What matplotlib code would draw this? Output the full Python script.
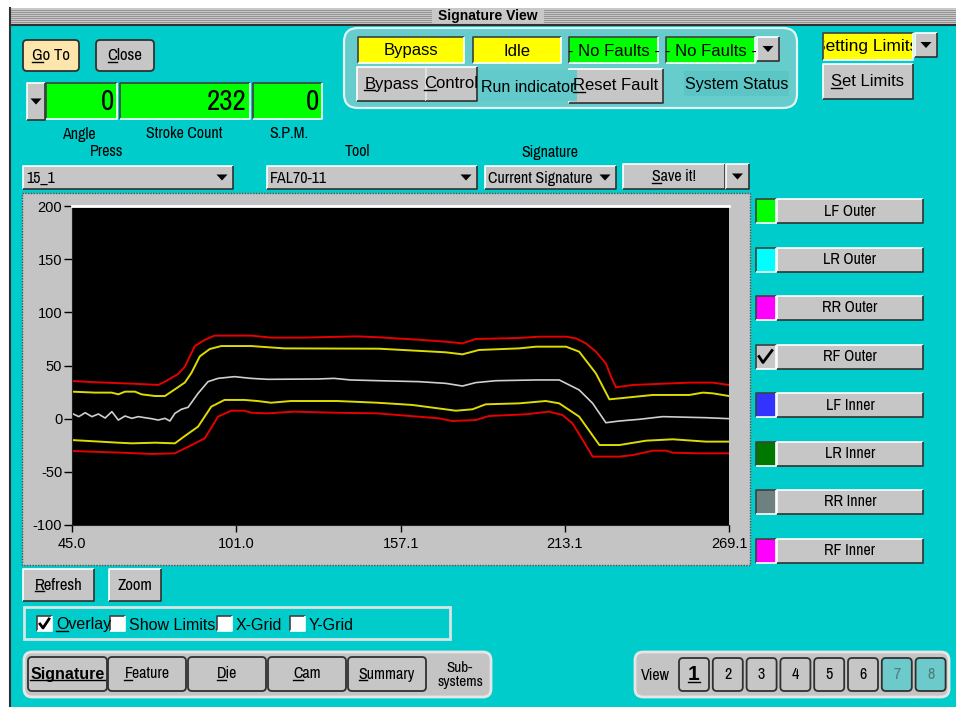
import matplotlib.pyplot as plt
from matplotlib.patches import Rectangle, FancyBboxPatch, Polygon

NARROW = ['Archivo Narrow', 'Liberation Sans Narrow', 'Liberation Sans', 'DejaVu Sans']
ARIAL = ['Liberation Sans', 'DejaVu Sans']
plt.rcParams['font.family'] = NARROW

W, H = 956, 707

# signature traces: crank angle vs. tonnage
RED_UP_X = [45.0, 53.5, 68.2, 74.4, 76.7, 81.2, 83.5, 86.9, 90.2, 93.6, 106.1, 112.9, 123.1, 142.3, 149.7,
            164.5, 172.5, 178.2, 182.7, 197.5, 204.4, 213.5, 216.9, 220.3, 223.7, 227.1, 228.8, 230.5,
            236.3, 255.6, 263.6, 269.1]
RED_UP_Y = [35.4, 34.2, 32.6, 31.7, 34.8, 42.0, 48.9, 68.3, 74.0, 78.1, 78.1, 76.2, 76.2, 77.4, 76.5,
            74.0, 72.4, 70.8, 74.9, 75.9, 77.1, 77.1, 75.5, 70.8, 63.0, 52.0, 40.0, 29.5,
            31.7, 33.9, 33.9, 31.7]

YEL_UP_X = [45.0, 52.9, 58.5, 60.8, 63.1, 66.5, 68.7, 73.3, 76.7, 80.1, 83.5, 85.7, 88.6, 92.0, 95.9,
            106.1, 117.4, 149.7, 164.5, 172.5, 178.2, 183.8, 197.5, 203.3, 213.5, 218.0, 223.7, 228.3,
            231.7, 243.1, 255.6, 260.2, 263.6, 269.1]
YEL_UP_Y = [25.4, 24.5, 24.5, 22.9, 25.4, 25.4, 22.9, 21.3, 21.3, 27.6, 34.0, 42.9, 58.6, 65.5, 68.3,
            68.3, 66.1, 65.8, 63.6, 62.4, 60.5, 64.6, 66.1, 67.7, 67.7, 63.0, 42.6, 18.2,
            19.1, 22.3, 22.3, 24.5, 23.8, 21.3]

SIG_X = [45.0, 47.3, 49.5, 51.8, 54.0, 56.3, 58.6, 60.8, 63.1, 65.4, 67.6, 69.9, 72.1, 74.4, 76.7,
         78.4, 80.1, 82.3, 84.6, 88.0, 91.4, 94.8, 100.4, 106.1, 111.7, 128.7, 134.4, 140.0, 149.7,
         163.4, 172.5, 178.2, 182.7, 189.6, 203.2, 211.2, 218.0, 222.6, 227.1, 231.7, 238.5, 246.5,
         261.3, 269.1]
SIG_Y = [5.0, 1.9, 5.6, 1.9, 4.4, 0.6, 6.6, -1.3, 2.5, 0.3, 1.9, 0.9, 0.0, -1.3, 0.3,
         -2.2, 5.0, 8.8, 10.7, 23.8, 34.8, 37.9, 39.5, 37.9, 37.0, 37.3, 37.9, 36.4, 35.7,
         34.8, 33.2, 30.7, 33.9, 35.7, 36.4, 36.4, 27.0, 14.4, -3.8, -2.2, -0.6, 1.9,
         0.9, 0.0]

YEL_LO_X = [45.0, 60.8, 65.4, 73.3, 80.1, 83.5, 88.0, 92.5, 97.0, 103.8, 108.3, 112.9, 119.7, 135.5,
            149.1, 161.1, 175.9, 181.6, 186.1, 197.5, 206.6, 211.2, 218.0, 224.9, 231.7, 240.8, 249.9,
            261.3, 268.9]
YEL_LO_Y = [-20.1, -22.6, -23.2, -22.6, -23.2, -16.3, -7.5, 11.3, 17.6, 17.6, 16.6, 15.0, 16.6, 16.6,
            15.0, 12.9, 7.5, 8.8, 13.5, 14.4, 16.6, 14.4, 1.9, -24.8, -24.8, -20.7, -19.4,
            -21.6, -21.6]

RED_LO_X = [45.0, 62.0, 72.1, 80.1, 85.8, 90.3, 94.8, 99.3, 103.8, 106.1, 111.7, 120.8, 134.4, 149.1,
            170.2, 174.7, 182.7, 187.2, 199.8, 207.7, 212.3, 215.7, 219.2, 222.6, 231.7, 236.3, 243.1,
            247.7, 249.9, 259.0, 268.9]
RED_LO_Y = [-30.4, -32.0, -33.2, -32.6, -24.8, -18.5, 1.9, 7.5, 7.5, 5.6, 5.0, 6.6, 5.6, 5.0,
            0.3, -2.2, -1.3, 2.5, 4.1, 6.6, 3.4, -4.4, -20.0, -35.7, -35.7, -34.2, -30.1,
            -30.1, -32.0, -32.6, -32.6]

X_TICKS = [45.0, 101.0, 157.1, 213.1, 269.1]
Y_TICKS = [-100, -50, 0, 50, 100, 150, 200]
X_RANGE = (45.0, 269.1)
Y_RANGE = (-100, 200)

ANGLE, STROKES, SPM = 0, 232, 0
STATUS = ['Bypass', 'Idle', '- No Faults -', '- No Faults -']
CHANNELS = ['LF Outer', 'LR Outer', 'RR Outer', 'RF Outer', 'LF Inner', 'LR Inner', 'RR Inner', 'RF Inner']
CHANNEL_COLORS = ['#00FF00', '#00FFFF', '#FF00FF', None, '#3333FF', '#007800', '#6E8080', '#FF00FF']
OPTIONS = ['Overlay', 'Show Limits', 'X-Grid', 'Y-Grid']
OPTION_CHECKED = [True, False, False, False]
TABS = ['Signature', 'Feature', 'Die', 'Cam', 'Summary']
VIEWS = ['1', '2', '3', '4', '5', '6', '7', '8']

TEAL = '#00CCCC'
PANEL = '#66CCCC'
BTN = '#C6C6C6'

fig = plt.figure(figsize=(W / 100, H / 100), dpi=100)
gui = fig.add_axes([0, 0, 1, 1])
gui.set_xlim(0, W)
gui.set_ylim(H, 0)
gui.axis('off')
renderer = fig.canvas.get_renderer()


def box(x, y, w, h, fc, ec='none', lw=1.0, z=2, ls='-'):
    gui.add_patch(Rectangle((x, y), w, h, facecolor=fc, edgecolor=ec, linewidth=lw,
                            linestyle=ls, zorder=z))


def edge(x, y, w, h, raised=True, z=3, lw=1.2):
    hi, lo = ('white', '#303030') if raised else ('#404040', 'white')
    gui.plot([x, x, x + w], [y + h, y, y], color=hi, lw=lw, zorder=z, solid_capstyle='butt')
    gui.plot([x, x + w, x + w], [y + h, y + h, y], color=lo, lw=lw, zorder=z, solid_capstyle='butt')


def underline(t, start, stop):
    bb = t.get_window_extent(renderer)
    fp = t.get_fontproperties()
    s = t.get_text()
    w0 = renderer.get_text_width_height_descent(s[:start], fp, False)[0] if start else 0.0
    w1 = renderer.get_text_width_height_descent(s[:stop], fp, False)[0]
    d = renderer.get_text_width_height_descent('lp', fp, False)[2]
    yy = H - (bb.y0 + d - 1.5)
    gui.plot([bb.x0 + w0, bb.x0 + w1], [yy, yy], color=t.get_color(), lw=1, zorder=t.get_zorder())


def text(x, y, s, size=11, family=NARROW, ha='center', va='center', weight='normal',
         color='black', z=6, ul=None, **kw):
    t = gui.text(x, y, s, fontsize=size, family=family, ha=ha, va=va, fontweight=weight,
                 color=color, zorder=z, **kw)
    if ul is not None:
        underline(t, *ul)
    return t


def arrow(cx, cy, s=5.5, z=6):
    gui.add_patch(Polygon([[cx - s, cy - s * 0.55], [cx + s, cy - s * 0.55], [cx, cy + s * 0.55]],
                          closed=True, facecolor='black', edgecolor='none', zorder=z))


def button(x, y, w, h, label, fc=BTN, size=11, family=NARROW, ul=None, weight='normal',
           rounded=False, color='black'):
    if rounded:
        gui.add_patch(FancyBboxPatch((x, y), w, h, boxstyle='round,pad=0,rounding_size=4',
                                     facecolor=fc, edgecolor='#303030', linewidth=1.3, zorder=2))
    else:
        box(x, y, w, h, fc)
        edge(x, y, w, h)
    return text(x + w / 2, y + h / 2, label, size=size, family=family, ul=ul, weight=weight,
                color=color)


def arrow_button(x, y, w, h, z=2):
    box(x, y, w, h, BTN, z=z)
    edge(x, y, w, h, z=z + 1)
    arrow(x + w / 2, y + h / 2, z=z + 2)


def combo(x, y, w, h, label, ax_pos):
    box(x, y, w, h, BTN)
    edge(x, y, w, h)
    text(x + 3, y + h / 2 + 1, label, ha='left', size=11.5)
    arrow(ax_pos, y + h / 2)


def field(x, y, w, h, fc, label, size=12, family=ARIAL, ha='center'):
    box(x, y, w, h, fc)
    edge(x, y, w, h, raised=False)
    tx = x + w / 2 if ha == 'center' else x + w - 3
    return text(tx, y + h / 2 + 1, label, size=size, family=family, ha=ha)


def checkbox(x, y, checked, s=15):
    box(x, y, s, s, 'white')
    edge(x, y, s, s, raised=False)
    if checked:
        gui.plot([x + 3, x + 6, x + 12], [y + 8, y + 12, y + 3], color='black', lw=2, zorder=6)


# window frame and title bar
box(0, 0, W, H, 'white', z=0)
box(10, 8, W - 10, H - 8, TEAL, z=1)
box(10, 8, W - 10, 16, '#C8C8C8', z=1)
for yy in range(10, 24, 2):
    gui.plot([10, W], [yy, yy], color='#8C8C8C', lw=0.6, zorder=1)
box(432, 8, 112, 16, '#C8C8C8', z=2)
text(488, 16, 'Signature View', size=10, family=ARIAL, weight='bold')
gui.plot([10, W], [24.5, 24.5], color='#303030', lw=1.5, zorder=2)
gui.plot([10.5, 10.5], [8, H], color='#303030', lw=1.5, zorder=2)

# top-left controls
button(23, 40, 56, 31, 'Go To', fc='#FCE6AC', rounded=True, ul=(0, 1), size=12)
button(96, 40, 58, 31, 'Close', rounded=True, ul=(0, 1), size=12)
arrow_button(27, 83, 18, 37)
field(46, 83, 71, 36, '#00FF00', str(ANGLE), size=21, family=NARROW, ha='right')
field(120, 83, 130, 36, '#00FF00', str(STROKES), size=21, family=NARROW, ha='right')
field(253, 83, 69, 36, '#00FF00', str(SPM), size=21, family=NARROW, ha='right')
text(79, 135, 'Angle', size=11.5)
text(184, 134, 'Stroke Count', size=11.5)
text(289, 134, 'S.P.M.', size=11.5)
text(107, 152, 'Press', size=11.5)
text(357, 152, 'Tool', size=11.5)
text(550, 152, 'Signature', size=11.5)
combo(23, 166, 210, 23, '15_1', 222)
combo(267, 166, 210, 23, 'FAL70-11', 466)
combo(485, 166, 131, 23, 'Current Signature', 605)
button(623, 164, 102, 25, 'Save it!', ul=(0, 1), size=11.5)
arrow_button(726, 164, 23, 25)

# status group
gui.add_patch(FancyBboxPatch((344, 28), 453, 80, boxstyle='round,pad=0,rounding_size=14',
                             facecolor=PANEL, edgecolor='#E4F4F4', linewidth=1.6, zorder=1.5))
field(358, 37, 106, 26, '#FFFF00', STATUS[0])
field(473, 37, 88, 26, '#FFFF00', STATUS[1])
field(569, 37, 89, 26, '#00FF00', STATUS[2])
field(666, 37, 89, 26, '#00FF00', STATUS[3])
arrow_button(757, 37, 22, 24, z=7)
button(357, 67, 69, 34, 'Bypass', size=12, family=ARIAL, ul=(0, 1))
button(426, 67, 51, 34, 'Control', size=12, family=ARIAL, ul=(0, 1))
button(569, 69, 94, 34, 'Reset Fault', size=12, family=ARIAL, ul=(0, 1))
box(478, 70, 99, 31, '#62CACA', z=4)
text(481, 88, 'Run indicator', size=11.5, family=ARIAL, ha='left')
box(684, 71, 105, 25, '#5CC6C6', z=2)
text(737, 84, 'System Status', size=11.5, family=ARIAL)

# limits
box(823, 33, 90, 27, '#FFFF00')
edge(823, 33, 90, 27, raised=False)
clip = Rectangle((824, 33), 88, 27, transform=gui.transData)
t = text(866, 47, 'Setting Limits', size=12.5, family=ARIAL)
t.set_clip_on(True)
t.set_clip_path(clip)
arrow_button(915, 33, 22, 24, z=7)
button(823, 64, 90, 35, 'Set Limits', size=12, family=ARIAL, ul=(0, 1))

# plot panel
box(22, 193, 728, 372, '#C4C4C4', ec='#505050', lw=1, ls=(0, (1, 1)))

# channel list
for i, (name, col) in enumerate(zip(CHANNELS, CHANNEL_COLORS)):
    top = 199 + 48.5 * i
    if col is None:
        box(756, top, 20, 24, '#C8C8C8')
        edge(756, top, 20, 24, raised=False)
        gui.plot([759, 763, 772], [top + 12, top + 18, top + 6], color='black', lw=2, zorder=6)
    else:
        box(756, top, 20, 24, col)
        edge(756, top, 20, 24, raised=False)
    button(777, top, 146, 24, name, size=11.5)

# bottom controls
button(23, 569, 71, 32, 'Refresh', ul=(0, 1), size=12)
button(109, 569, 52, 32, 'Zoom', size=12)
box(24, 607, 426, 32, 'none', ec='#D6E6E6', lw=2)
opt_x = [37, 110, 217, 290]
for label, cx, on in zip(OPTIONS, opt_x, OPTION_CHECKED):
    checkbox(cx, 616, on)
    text(cx + 19, 625, label, size=11.5, family=ARIAL, ha='left',
         ul=(0, 1) if label == 'Overlay' else None)

gui.add_patch(FancyBboxPatch((24, 652), 467, 45, boxstyle='round,pad=0,rounding_size=8',
                             facecolor='#C4C4C4', edgecolor='#E6E6E6', linewidth=2, zorder=1.5))
for i, name in enumerate(TABS):
    x0 = 28 + 80 * i
    if i == 0:
        button(x0, 657, 79, 34, name, rounded=True, weight='bold', ul=(0, len(name)), size=11.5,
               family=ARIAL)
    else:
        button(x0, 657, 78, 34, name, rounded=True, ul=(0, 1), size=11.5)
text(460, 675, 'Sub-\nsystems', size=11, linespacing=1.0)

gui.add_patch(FancyBboxPatch((635, 652), 314, 45, boxstyle='round,pad=0,rounding_size=8',
                             facecolor='#C4C4C4', edgecolor='#E6E6E6', linewidth=2, zorder=1.5))
text(655, 675, 'View', size=11.5)
for i, v in enumerate(VIEWS):
    x0 = 679 + 33.8 * i
    if i == 0:
        button(x0, 658, 30, 33, v, rounded=True, size=15, family=ARIAL, weight='bold', ul=(0, 1))
    elif i >= 6:
        button(x0, 658, 30, 33, v, fc='#6CCACA', rounded=True, size=11.5, color='#4C7C7C')
    else:
        button(x0, 658, 30, 33, v, rounded=True, size=11.5)

# signature plot
ax = fig.add_axes([72 / W, 1 - 525 / H, 657 / W, 319 / H])
ax.set_facecolor('black')
ax.plot(RED_UP_X, RED_UP_Y, color='#E60000', lw=1.4)
ax.plot(RED_LO_X, RED_LO_Y, color='#E60000', lw=1.4)
ax.plot(YEL_UP_X, YEL_UP_Y, color='#DCDC00', lw=1.4)
ax.plot(YEL_LO_X, YEL_LO_Y, color='#DCDC00', lw=1.4)
ax.plot(SIG_X, SIG_Y, color='#CFCFCF', lw=1.2)
ax.set_xlim(*X_RANGE)
ax.set_ylim(*Y_RANGE)
ax.set_xticks(X_TICKS)
ax.set_xticklabels([f'{v:.1f}' for v in X_TICKS])
ax.set_yticks(Y_TICKS)
ax.set_yticklabels([str(v) for v in Y_TICKS])
ax.tick_params(axis='y', direction='out', length=6, width=1, pad=1, labelsize=10.5)
ax.tick_params(axis='x', direction='out', length=5, width=1, pad=4, labelsize=10.5)
for lbl in ax.get_xticklabels() + ax.get_yticklabels():
    lbl.set_family(ARIAL)
ax.spines['top'].set_color('white')
ax.spines['top'].set_linewidth(2)
ax.spines['left'].set_color('#202020')
ax.spines['bottom'].set_color('#202020')
ax.spines['right'].set_visible(False)

fig.savefig('out.png', dpi=100)
